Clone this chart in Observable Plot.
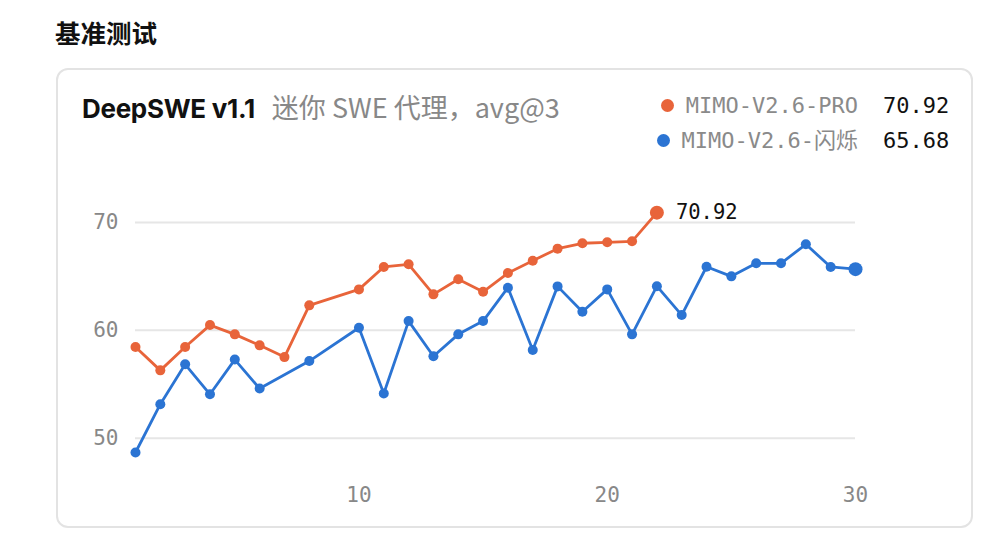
<!DOCTYPE html>
<html><head><meta charset="utf-8">
<script src="https://cdn.jsdelivr.net/npm/d3@7"></script>
<script src="https://cdn.jsdelivr.net/npm/@observablehq/plot@0.6"></script>
<style>
body{margin:0;background:#fff;width:992px;height:534px;overflow:hidden;position:relative;font-family:Inter,"Noto Sans CJK SC",sans-serif}
#h{position:absolute;left:55px;top:14px;font-size:25.5px;font-weight:700;color:#111;font-family:"Noto Sans CJK SC",sans-serif;line-height:36px}
#card{position:absolute;left:56px;top:68px;width:913px;height:456px;border:2px solid #e3e3e3;border-radius:12px}
#title{position:absolute;left:82px;top:90px;font-size:26px;line-height:34px;white-space:nowrap}
#title b{color:#111;font-weight:700;letter-spacing:-0.3px}
#title span{color:#888;margin-left:17px;font-family:"Noto Sans CJK SC",sans-serif;font-weight:400;font-size:27px}
.lg{position:absolute;font-family:"DejaVu Sans Mono","Noto Sans CJK SC",monospace;font-size:22px;color:#8a8a8a;white-space:nowrap;line-height:30px}
.lv{position:absolute;left:883px;font-family:"DejaVu Sans Mono",monospace;font-size:22px;color:#111;line-height:30px}
.dot{display:inline-block;width:13px;height:13px;border-radius:50%;margin-right:12px;vertical-align:middle;position:relative;top:-2px}
#chart{position:absolute;left:0;top:190px}
</style></head><body>
<div id="h">基准测试</div>
<div id="card"></div>
<div id="title"></div>
<div id="legend"></div>
<div id="chart"></div>
<script>
const heading = "基准测试";
const chartTitle = "DeepSWE v1.1";
const chartSubtitle = "迷你 SWE 代理，avg@3";
const seriesNames = ["MIMO-V2.6-PRO", "MIMO-V2.6-闪烁"];
const seriesColors = ["#e8643a", "#2b74d3"];
const proX = [1,2,3,4,5,6,7,8,10,11,12,13,14,15,16,17,18,19,20,21,22];
const proY = [58.45,56.29,58.45,60.49,59.63,58.61,57.52,62.32,63.8,65.88,66.13,63.34,64.74,63.58,65.32,66.46,67.58,68.08,68.17,68.26,70.92];
const flashX = [1,2,3,4,5,6,8,10,11,12,13,14,15,16,17,18,19,20,21,22,23,24,25,26,27,28,29,30];
const flashY = [48.67,53.15,56.85,54.07,57.29,54.6,57.15,60.24,54.15,60.86,57.6,59.63,60.86,63.96,58.17,64.08,61.73,63.8,59.63,64.1,61.42,65.9,65.01,66.22,66.22,67.98,65.88,65.68];
const xTicks = [10,20,30];
const yTicks = [50,60,70];

document.getElementById("h").textContent = heading;
document.getElementById("title").innerHTML = `<b>${chartTitle}</b><span>${chartSubtitle}</span>`;

const series = [[proX, proY], [flashX, flashY]];
const data = series.flatMap(([xs, ys], i) => xs.map((x, j) => ({series: seriesNames[i], x, y: ys[j], last: j === xs.length - 1})));
const lastPts = data.filter(d => d.last);

const legend = document.getElementById("legend");
lastPts.forEach((d, i) => {
  const top = 91 + i * 35;
  const n = document.createElement("div");
  n.className = "lg"; n.style.top = top + "px";
  n.innerHTML = `<span class="dot" style="background:${seriesColors[i]}"></span>${d.series}`;
  n.style.right = (992 - 858) + "px";
  legend.appendChild(n);
  const v = document.createElement("div");
  v.className = "lv"; v.style.top = top + "px";
  v.textContent = d.y.toFixed(2);
  legend.appendChild(v);
});

const mono = "DejaVu Sans Mono, monospace";
const plot = Plot.plot({
  width: 992, height: 320,
  marginLeft: 135, marginRight: 137, marginTop: 10.5, marginBottom: 40,
  style: {background: "transparent", overflow: "visible"},
  x: {domain: [1, 30], ticks: xTicks},
  y: {domain: [47, 72], ticks: yTicks},
  color: {domain: seriesNames, range: seriesColors},
  marks: [
    Plot.gridY(yTicks, {stroke: "#e6e6e6", strokeOpacity: 1, strokeWidth: 2}),
    Plot.axisY({ticks: yTicks, tickSize: 0, tickPadding: 17, fontSize: 21, fontFamily: mono, fill: "#888", label: null}),
    Plot.axisX({ticks: xTicks, tickSize: 0, tickPadding: 17, fontSize: 21, fontFamily: mono, fill: "#888", label: null}),
    Plot.line(data, {x: "x", y: "y", z: "series", stroke: "series", strokeWidth: 2.8}),
    Plot.dot(data.filter(d => !d.last), {x: "x", y: "y", fill: "series", r: 5}),
    Plot.dot(lastPts, {x: "x", y: "y", fill: "series", r: 7}),
    Plot.text(lastPts.filter(d => d.series === seriesNames[0]), {x: "x", y: "y", text: d => d.y.toFixed(2), dx: 19, textAnchor: "start", fontSize: 20.5, fontFamily: mono, fill: "#111"})
  ]
});
document.getElementById("chart").appendChild(plot);
</script>
</body></html>
